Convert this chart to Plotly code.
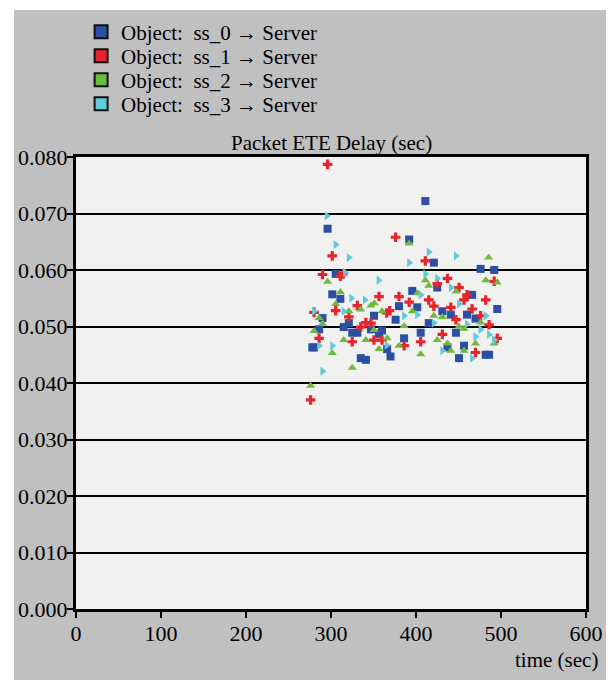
import plotly.graph_objects as go

# values: time (sec), delay (sec)
ss0_t = [296, 305.5, 301.5, 311, 376, 290, 321, 350.6, 315, 286, 325, 331, 347, 356.5, 360,
         278, 280, 366, 370, 335, 341, 411, 392, 421, 476, 492, 425, 395.6, 380, 466, 495.6,
         401.5, 431, 441, 460, 415, 470, 447, 405.5, 386, 437, 456.5, 482, 486, 450.6]
ss0_d = [0.0673, 0.0593, 0.0557, 0.0549, 0.0512, 0.0515, 0.0506, 0.0519, 0.0499, 0.0495, 0.0489,
         0.0489, 0.0495, 0.0487, 0.0493, 0.0463, 0.0463, 0.0460, 0.0447, 0.0444, 0.0441, 0.0722,
         0.0654, 0.0613, 0.0602, 0.0600, 0.0569, 0.0563, 0.0536, 0.0556, 0.0531, 0.0534, 0.0527,
         0.0521, 0.0521, 0.0506, 0.0514, 0.0489, 0.0489, 0.0479, 0.0463, 0.0466, 0.0450, 0.0450,
         0.0444]

ss1_t = [296, 376, 301.5, 290, 311, 314, 356.5, 331, 305.5, 321, 280, 365.5, 369, 341, 347, 335,
         286, 325, 350.6, 360, 276, 411, 437, 450.6, 425, 492, 380, 392, 415, 421, 460, 456.5,
         482, 441, 466, 447, 476, 486, 431, 405.5, 386, 495.6, 470]
ss1_d = [0.0787, 0.0658, 0.0625, 0.0592, 0.0589, 0.0593, 0.0553, 0.0537, 0.0528, 0.0517, 0.0525,
         0.0524, 0.0528, 0.0507, 0.0506, 0.0499, 0.0479, 0.0473, 0.0476, 0.0476, 0.0370, 0.0616,
         0.0585, 0.0569, 0.0576, 0.0580, 0.0553, 0.0543, 0.0547, 0.0536, 0.0556, 0.0547, 0.0547,
         0.0534, 0.0531, 0.0512, 0.0519, 0.0503, 0.0486, 0.0473, 0.0466, 0.0479, 0.0454]

ss2_t = [296, 311, 305.5, 335, 347, 351, 321, 360, 286, 290, 350.6, 280, 315, 341, 366, 356.5,
         301.5, 325, 276, 392, 485.5, 482, 495.6, 411, 415, 447, 401.5, 395.6, 421, 431, 386,
         476, 450.6, 456.5, 425, 380, 437, 441, 456.5, 470, 492, 405.5]
ss2_d = [0.0579, 0.0561, 0.0540, 0.0530, 0.0537, 0.0541, 0.0527, 0.0527, 0.0515, 0.0505, 0.0494,
         0.0492, 0.0476, 0.0476, 0.0479, 0.0460, 0.0453, 0.0427, 0.0395, 0.0647, 0.0622, 0.0582,
         0.0578, 0.0582, 0.0572, 0.0562, 0.0559, 0.0527, 0.0519, 0.0517, 0.0501, 0.0507, 0.0500,
         0.0496, 0.0476, 0.0466, 0.0470, 0.0457, 0.0457, 0.0470, 0.0470, 0.0451]

ss3_t = [295, 305.5, 321, 316.5, 356, 324, 340, 315, 280, 365.5, 286, 301.5, 290, 415, 392, 447,
         411, 425, 441, 405.5, 450.6, 401.5, 386, 421, 482, 460, 476, 486, 470, 492, 431, 466]
ss3_d = [0.0696, 0.0645, 0.0622, 0.0596, 0.0582, 0.0550, 0.0547, 0.0527, 0.0527, 0.0467, 0.0466,
         0.0466, 0.0421, 0.0632, 0.0613, 0.0625, 0.0593, 0.0585, 0.0569, 0.0556, 0.0540, 0.0521,
         0.0519, 0.0506, 0.0519, 0.0504, 0.0495, 0.0486, 0.0482, 0.0476, 0.0457, 0.0444]

names = ["Object:\u00a0 ss_0 \u2192 Server", "Object:\u00a0 ss_1 \u2192 Server",
         "Object:\u00a0 ss_2 \u2192 Server", "Object:\u00a0 ss_3 \u2192 Server"]
colors = ["#2b4fa2", "#e8232b", "#6cbb3e", "#62c9d9"]
symbols = ["square", "cross", "triangle-up", "triangle-right"]

FONT = "Liberation Serif"

fig = go.Figure()

series = [(ss0_t, ss0_d), (ss1_t, ss1_d), (ss2_t, ss2_d), (ss3_t, ss3_d)]
for (t, d), c, s in zip(series, colors, symbols):
    fig.add_trace(go.Scatter(x=t, y=d, mode="markers", showlegend=False,
                             marker=dict(color=c, symbol=s, size=8, line_width=0)))

# one legend per entry so the rows can sit as tightly as in the original
legend_ids = ["legend", "legend2", "legend3", "legend4"]
legend_y = [1.2765, 1.2235, 1.1704, 1.1173]
for n, c, lid in zip(names, colors, legend_ids):
    fig.add_trace(go.Scatter(x=[None], y=[None], mode="markers", name=n, legend=lid,
                             marker=dict(color=c, symbol="square", size=13,
                                         line=dict(color="#111", width=2))))

legend_layout = {}
for lid, ly in zip(legend_ids, legend_y):
    legend_layout[lid] = dict(x=0.01, y=ly, xanchor="left", yanchor="middle",
                              bgcolor="rgba(0,0,0,0)", font=dict(size=21),
                              itemwidth=30)

fig.update_layout(
    width=606, height=672,
    paper_bgcolor="#c0c0c0",
    plot_bgcolor="#f1f1f0",
    margin=dict(l=68, r=28, t=149, b=71, autoexpand=False),
    font=dict(family=FONT, size=21, color="black"),
    xaxis=dict(range=[0, 600], dtick=100, showgrid=False, zeroline=False,
               ticks="outside", ticklen=6, tickwidth=2, tickcolor="black",
               showline=True, linecolor="black", linewidth=3, mirror=True,
               tickfont_size=22, ticklabelstandoff=-3),
    yaxis=dict(range=[0, 0.08], dtick=0.01, tickformat=".3f", showgrid=True,
               gridcolor="black", gridwidth=2, zeroline=False,
               ticks="outside", ticklen=6, tickwidth=2, tickcolor="black",
               showline=True, linecolor="black", linewidth=3, mirror=True,
               tickfont_size=22, ticklabelstandoff=-5),
    annotations=[
        dict(text="Packet ETE Delay (sec)", xref="paper", yref="paper", x=0.5,
             y=1 + 14 / 452, xanchor="center", yanchor="middle", showarrow=False),
        dict(text="time (sec)", xref="paper", yref="paper", x=1.027, y=-0.113,
             xanchor="right", yanchor="middle", showarrow=False),
    ],
    shapes=[
        dict(type="rect", xref="paper", yref="paper", x0=-68 / 510, x1=-62 / 510,
             y0=-71 / 452, y1=1 + 149 / 452, fillcolor="white", line_width=0, layer="below"),
        dict(type="rect", xref="paper", yref="paper", x0=-68 / 510, x1=1 + 28 / 510,
             y0=1 + 147 / 452, y1=1 + 149 / 452, fillcolor="white", line_width=0, layer="below"),
    ],
    **legend_layout,
)

fig.write_html("out.html")
